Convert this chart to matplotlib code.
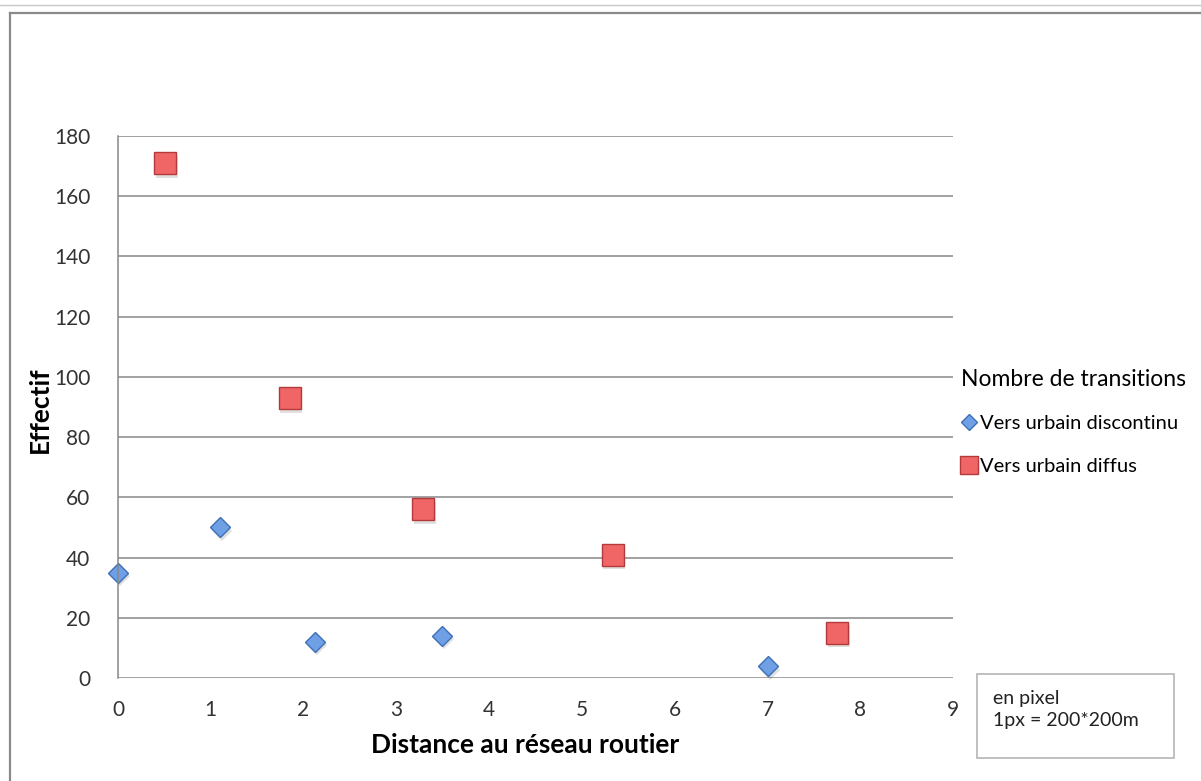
import matplotlib
matplotlib.use("Agg")
import matplotlib.pyplot as plt
from matplotlib.lines import Line2D
from matplotlib.patches import Rectangle

plt.rcParams["font.family"] = ["Lato", "DejaVu Sans"]

# values
dist_discontinu = [0.0, 1.1, 2.12, 3.49, 7.01]
eff_discontinu = [35, 50, 12, 14, 4]
dist_diffus = [0.51, 1.85, 3.29, 5.33, 7.75]
eff_diffus = [171, 93, 56, 41, 15]
x_ticks = list(range(0, 10))
y_ticks = list(range(0, 181, 20))

W, H = 1201, 781
fig = plt.figure(figsize=(W / 100, H / 100), dpi=100)
ax = fig.add_axes([118 / W, 1 - 678 / H, (953 - 118) / W, (678 - 136) / H])

grid_col = "#878787"
ax.set_xlim(0, 9)
ax.set_ylim(0, 180)
ax.set_xticks(x_ticks)
ax.set_yticks(y_ticks)
ax.yaxis.grid(True, color=grid_col, linewidth=1.1)
ax.set_axisbelow(True)
for s in ["top", "right", "bottom"]:
    ax.spines[s].set_visible(False)
ax.spines["left"].set_color(grid_col)
ax.spines["left"].set_linewidth(1.1)
ax.tick_params(length=0, labelsize=15, colors="#333333")
ax.tick_params(axis="x", pad=16)
ax.tick_params(axis="y", pad=20)

# soft shadow then markers
ax.plot([d + 0.02 for d in dist_discontinu], [e - 1.2 for e in eff_discontinu], "D",
        ms=10.5, color="#000000", alpha=0.12, mew=0, clip_on=False)
ax.plot([d + 0.02 for d in dist_diffus], [e - 1.2 for e in eff_diffus], "s",
        ms=15.5, color="#000000", alpha=0.12, mew=0, clip_on=False)
ax.plot(dist_discontinu, eff_discontinu, "D", ms=10.5, mfc="#6fa0e6", mec="#3f6fb5",
        mew=1.0, clip_on=False, label="Vers urbain discontinu")
ax.plot(dist_diffus, eff_diffus, "s", ms=15.5, mfc="#f06565", mec="#b33a3a",
        mew=1.0, clip_on=False, label="Vers urbain diffus")

ax.set_xlabel("Distance au réseau routier", fontsize=19, fontweight="bold")
ax.set_ylabel("Effectif", fontsize=19, fontweight="bold")
ax.xaxis.set_label_coords((525 - 118) / (953 - 118), -(745 - 678) / (678 - 136))
ax.yaxis.set_label_coords(-(118 - 40) / (953 - 118), (678 - 410) / (678 - 136))
ax.xaxis.label.set_va("center")
ax.yaxis.label.set_va("center")

leg = ax.legend(loc="upper left", bbox_to_anchor=(953 / W, 1 - 361 / H),
                bbox_transform=fig.transFigure, frameon=False,
                title="Nombre de transitions", title_fontsize=16.5, fontsize=14.5,
                handlelength=0.8, handletextpad=0.15, labelspacing=1.25,
                markerscale=0.8, borderaxespad=0)
leg._legend_box.align = "left"

# note box
fig.add_artist(Rectangle((977 / W, 1 - 758 / H), (1174 - 977) / W, (758 - 674) / H,
                         transform=fig.transFigure, fill=False,
                         edgecolor="#b5b5b5", linewidth=1.2))
fig.text(993 / W, 1 - 704 / H, "en pixel", fontsize=14, color="#222222", va="baseline")
fig.text(993 / W, 1 - 726 / H, "1px = 200*200m", fontsize=14, color="#222222", va="baseline")

# outer frame lines
fig.add_artist(Line2D([0, 1], [1 - 5 / H, 1 - 5 / H], transform=fig.transFigure,
                      color="#c8c8c8", linewidth=1))
fig.add_artist(Line2D([10 / W, 1], [1 - 13 / H, 1 - 13 / H], transform=fig.transFigure,
                      color="#8a8a8a", linewidth=1.6))
fig.add_artist(Line2D([10 / W, 10 / W], [0, 1 - 13 / H], transform=fig.transFigure,
                      color="#8a8a8a", linewidth=1.6))

fig.savefig("out.png", dpi=100)
